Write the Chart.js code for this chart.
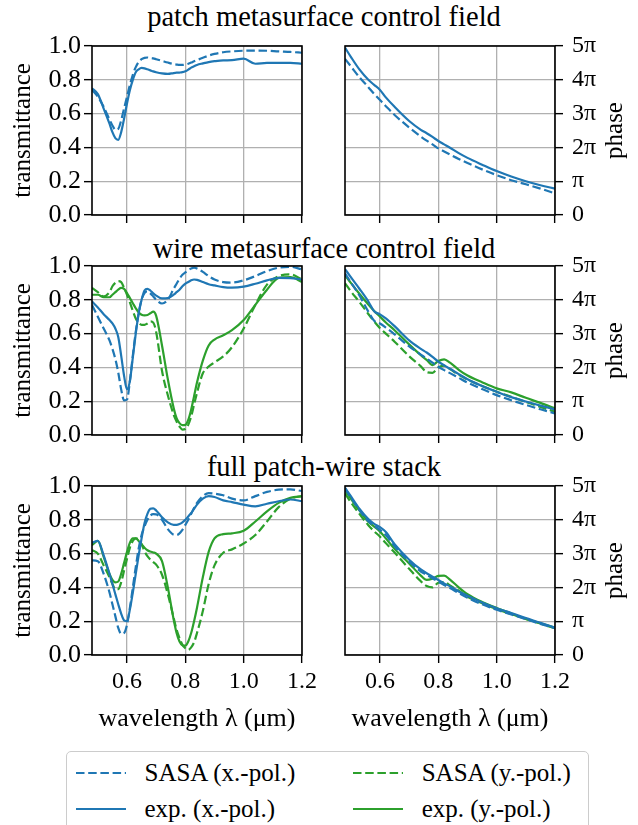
<!DOCTYPE html>
<html>
<head>
<meta charset="utf-8">
<script src="https://cdn.jsdelivr.net/npm/chart.js@4.4.1/dist/chart.umd.min.js"></script>
<style>
  body { margin: 0; width: 638px; height: 825px; position: relative; overflow: hidden; background: #fff; font-family: "Liberation Serif", serif; color: #000; }
  canvas { position: absolute; }
  .row-title { position: absolute; left: 0; width: 648px; text-align: center; font-size: 28.5px; line-height: 34px; white-space: nowrap; }
  #legend { position: absolute; left: 66px; top: 751px; width: 523px; height: 100px; border: 1.5px solid #cccccc; border-radius: 5px; box-sizing: border-box; }
  .item { position: absolute; height: 30px; font-size: 25px; line-height: 30px; display: flex; align-items: center; white-space: nowrap; }
  .item svg { margin-right: 19px; }
</style>
</head>
<body>
<div id="legend"></div>
<script>
// wavelength grid (um) for the transmittance curves
const wl = [0.48, 0.50, 0.52, 0.54, 0.55, 0.56, 0.57, 0.58, 0.59, 0.60, 0.61, 0.62, 0.63, 0.64, 0.65, 0.66, 0.67, 0.68, 0.69, 0.70,
            0.72, 0.74, 0.76, 0.77, 0.78, 0.79, 0.80, 0.81, 0.82, 0.83, 0.84, 0.86, 0.88, 0.90, 0.93, 0.96, 1.00, 1.04, 1.08, 1.12, 1.16, 1.20];

// transmittance, patch metasurface
const patchSasaX = [.74, .70, .64, .565, .53, .505, .51, .56, .63, .70, .77, .83, .875, .905, .922, .93, .932, .93, .927, .922,
                    .912, .902, .893, .89, .888, .888, .89, .895, .902, .91, .917, .93, .943, .953, .963, .968, .972, .973, .972, .968, .965, .96];
const patchExpX  = [.75, .715, .63, .54, .49, .455, .445, .49, .57, .66, .74, .80, .845, .862, .87, .868, .862, .856, .85, .845,
                    .838, .835, .84, .842, .843, .845, .85, .86, .872, .88, .888, .897, .905, .91, .915, .916, .925, .895, .90, .90, .90, .895];

// transmittance, wire metasurface
const wireSasaX = [.77, .70, .63, .56, .51, .45, .37, .27, .205, .21, .32, .47, .61, .72, .80, .84, .85, .838, .82, .80,
                   .778, .80, .865, .895, .925, .948, .962, .975, .985, .99, .985, .965, .94, .92, .905, .902, .915, .94, .97, .99, .995, .98];
const wireExpX  = [.79, .755, .715, .68, .66, .63, .58, .47, .35, .27, .32, .46, .60, .72, .80, .855, .865, .855, .838, .825,
                   .808, .81, .83, .845, .86, .88, .895, .905, .915, .92, .918, .905, .892, .885, .875, .872, .878, .895, .915, .93, .928, .92];
const wireSasaY = [.87, .845, .82, .845, .88, .90, .91, .905, .87, .83, .785, .735, .69, .665, .652, .652, .66, .672, .665, .61,
                   .38, .235, .12, .08, .05, .032, .035, .06, .11, .18, .25, .365, .405, .43, .465, .52, .63, .77, .89, .94, .95, .92];
const wireExpY  = [.83, .83, .815, .815, .83, .845, .86, .87, .865, .84, .81, .78, .75, .725, .712, .708, .71, .72, .73, .705,
                   .53, .33, .16, .10, .07, .058, .06, .09, .15, .23, .31, .44, .53, .565, .59, .62, .68, .77, .86, .93, .935, .905];

// transmittance, full patch-wire stack
const stackSasaX = [.56, .555, .48, .37, .30, .23, .16, .125, .13, .18, .28, .40, .52, .63, .71, .76, .80, .825, .833, .832,
                    .80, .745, .712, .71, .72, .74, .77, .80, .835, .87, .90, .94, .958, .955, .945, .925, .915, .94, .965, .978, .98, .97];
const stackExpX  = [.665, .675, .59, .48, .42, .36, .30, .245, .205, .20, .27, .37, .48, .59, .69, .78, .835, .865, .868, .855,
                    .815, .785, .77, .77, .775, .785, .80, .82, .84, .865, .89, .925, .94, .935, .915, .905, .89, .88, .895, .91, .92, .91];
const stackSasaY = [.62, .60, .53, .46, .42, .39, .39, .43, .50, .57, .635, .675, .69, .685, .655, .615, .585, .565, .55, .535,
                    .475, .36, .22, .15, .10, .06, .04, .03, .045, .075, .13, .26, .42, .53, .605, .625, .66, .71, .79, .875, .925, .94];
const stackExpY  = [.65, .675, .58, .48, .445, .43, .435, .48, .545, .61, .665, .69, .69, .675, .655, .635, .62, .612, .607, .60,
                    .555, .40, .21, .13, .08, .058, .055, .08, .13, .20, .28, .46, .61, .69, .715, .72, .735, .79, .85, .90, .93, .94];

// wavelength grid (um) for the phase curves, phase in units of pi
const phaseWl = [0.48, 0.50, 0.53, 0.56, 0.58, 0.60, 0.62, 0.65, 0.70, 0.74, 0.76, 0.78, 0.80, 0.82, 0.84, 0.87, 0.90, 0.95, 1.00, 1.05, 1.10, 1.15, 1.20];

const patchPhaseSasaX = [4.62, 4.40, 4.07, 3.78, 3.58, 3.40, 3.22, 2.96, 2.59, 2.32, 2.20, 2.09, 1.97, 1.88, 1.79, 1.66, 1.54, 1.35, 1.18, 1.03, 0.91, 0.78, 0.64];
const patchPhaseExpX  = [4.95, 4.68, 4.30, 4.00, 3.85, 3.70, 3.48, 3.20, 2.78, 2.52, 2.42, 2.31, 2.19, 2.09, 1.99, 1.83, 1.69, 1.49, 1.30, 1.14, 1.00, 0.88, 0.78];

const wirePhaseSasaX = [4.78, 4.52, 4.12, 3.65, 3.38, 3.30, 3.18, 2.98, 2.62, 2.38, 2.26, 2.14, 2.02, 1.92, 1.83, 1.69, 1.55, 1.36, 1.18, 1.03, 0.89, 0.76, 0.64];
const wirePhaseExpX  = [4.91, 4.67, 4.32, 3.95, 3.66, 3.57, 3.45, 3.22, 2.80, 2.55, 2.44, 2.31, 2.17, 2.06, 1.96, 1.80, 1.65, 1.45, 1.28, 1.12, 0.99, 0.87, 0.76];
const wirePhaseSasaY = [4.49, 4.25, 3.93, 3.58, 3.36, 3.16, 3.00, 2.76, 2.33, 2.03, 1.86, 1.84, 2.00, 2.05, 1.95, 1.78, 1.64, 1.45, 1.28, 1.13, 0.98, 0.83, 0.69];
const wirePhaseExpY  = [4.73, 4.50, 4.17, 3.86, 3.67, 3.50, 3.33, 3.10, 2.68, 2.36, 2.22, 2.07, 2.19, 2.24, 2.14, 1.93, 1.76, 1.56, 1.38, 1.26, 1.10, 0.95, 0.79];

const stackPhaseSasaX = [4.93, 4.66, 4.28, 3.96, 3.82, 3.70, 3.55, 3.22, 2.76, 2.47, 2.37, 2.27, 2.17, 2.07, 1.98, 1.83, 1.69, 1.50, 1.34, 1.20, 1.06, 0.92, 0.79];
const stackPhaseExpX  = [4.95, 4.70, 4.32, 4.02, 3.88, 3.78, 3.64, 3.28, 2.82, 2.53, 2.42, 2.32, 2.22, 2.12, 2.03, 1.88, 1.75, 1.55, 1.38, 1.24, 1.09, 0.95, 0.81];
const stackPhaseSasaY = [4.78, 4.52, 4.17, 3.84, 3.66, 3.50, 3.31, 3.03, 2.55, 2.18, 2.04, 2.00, 2.14, 2.16, 2.06, 1.90, 1.72, 1.53, 1.36, 1.21, 1.07, 0.93, 0.79];
const stackPhaseExpY  = [4.88, 4.63, 4.27, 3.94, 3.80, 3.65, 3.45, 3.14, 2.71, 2.35, 2.22, 2.26, 2.34, 2.35, 2.23, 2.00, 1.80, 1.57, 1.39, 1.23, 1.07, 0.94, 0.81];

// ticks and labels
const wlTicks = [0.6, 0.8, 1.0, 1.2];
const transTicks = [0, 0.2, 0.4, 0.6, 0.8, 1.0];
const phaseTicks = [0, 1, 2, 3, 4, 5];
const phaseTickLabels = ["0", "π", "2π", "3π", "4π", "5π"];
const rowTitles = ["patch metasurface control field", "wire metasurface control field", "full patch-wire stack"];
const legendLabels = ["SASA (x.-pol.)", "exp. (x.-pol.)", "SASA (y.-pol.)", "exp. (y.-pol.)"];

// series per row, in order: SASA x, exp x, SASA y, exp y
const transRows = [
  [patchSasaX, patchExpX],
  [wireSasaX, wireExpX, wireSasaY, wireExpY],
  [stackSasaX, stackExpX, stackSasaY, stackExpY]
];
const phaseRows = [
  [patchPhaseSasaX, patchPhaseExpX],
  [wirePhaseSasaX, wirePhaseExpX, wirePhaseSasaY, wirePhaseExpY],
  [stackPhaseSasaX, stackPhaseExpX, stackPhaseSasaY, stackPhaseExpY]
];

const BLUE = "#1f77b4";
const GREEN = "#2ca02c";
const DASH = [8.5, 3.7];
const styles = [
  { color: BLUE, dash: DASH },
  { color: BLUE, dash: [] },
  { color: GREEN, dash: DASH },
  { color: GREEN, dash: [] }
];

const FONT = "Liberation Serif";
const rowTops = [46, 266, 486];
const plotH = 169;
const padTop = 30; // room for half a tick label plus its padding above the axes

// box around the axes, drawn over the curves like matplotlib spines
const framePlugin = {
  id: "frame",
  afterDatasetsDraw(chart) {
    const { ctx, chartArea: a } = chart;
    ctx.save();
    ctx.strokeStyle = "#000";
    ctx.lineWidth = 1.6;
    ctx.strokeRect(a.left, a.top, a.right - a.left, a.bottom - a.top);
    ctx.restore();
  }
};

// right hand "phase" label, reading bottom to top
const phaseLabelPlugin = {
  id: "phaseLabel",
  afterDraw(chart) {
    const { ctx, chartArea: a } = chart;
    ctx.save();
    ctx.font = "25px '" + FONT + "'";
    ctx.fillStyle = "#000";
    ctx.textAlign = "center";
    ctx.textBaseline = "middle";
    ctx.translate(280, (a.top + a.bottom) / 2);
    ctx.rotate(-Math.PI / 2);
    ctx.fillText("phase", 0, 0);
    ctx.restore();
  }
};

function points(xs, ys) {
  return xs.map((x, i) => ({ x: x, y: ys[i] }));
}

function makePanel(row, isPhase) {
  const last = row === rowTitles.length - 1;
  const xh = last ? 80 : 10;
  const padBottom = last ? 6 : 22;
  const canvas = document.createElement("canvas");
  canvas.width = isPhase ? 303 : 330;
  canvas.height = padTop + plotH + xh + padBottom;
  canvas.style.left = (isPhase ? 335 : 0) + "px";
  canvas.style.top = (rowTops[row] - padTop) + "px";
  document.body.appendChild(canvas);

  const series = isPhase ? phaseRows[row] : transRows[row];
  const xs = isPhase ? phaseWl : wl;
  const datasets = series.map((ys, i) => ({
    data: points(xs, ys),
    borderColor: styles[i].color,
    borderDash: styles[i].dash,
    borderWidth: 2.2,
    pointRadius: 0,
    fill: false,
    cubicInterpolationMode: "monotone"
  }));

  const grid = {
    color: "#b0b0b0",
    lineWidth: 1.3,
    drawTicks: true,
    tickLength: 8,
    tickColor: "#000",
    tickWidth: 1.4
  };

  new Chart(canvas, {
    type: "line",
    data: { datasets: datasets },
    options: {
      responsive: false,
      animation: false,
      events: [],
      layout: {
        padding: isPhase
          ? { top: padTop, left: 10, right: 0, bottom: padBottom }
          : { top: padTop, left: 0, right: 28, bottom: padBottom }
      },
      plugins: { legend: { display: false }, tooltip: { enabled: false } },
      scales: {
        x: {
          type: "linear",
          min: 0.48,
          max: 1.2,
          border: { display: false },
          grid: grid,
          afterBuildTicks: (s) => { s.ticks = wlTicks.map((v) => ({ value: v })); },
          afterFit: (s) => { s.height = xh; },
          ticks: {
            display: last,
            autoSkip: false,
            padding: 4,
            maxRotation: 0,
            color: "#000",
            font: { family: FONT, size: 24 },
            callback: (v) => v.toFixed(1)
          },
          title: {
            display: last,
            text: "wavelength λ (μm)",
            color: "#000",
            font: { family: FONT, size: 26 },
            padding: { top: 0, bottom: 0 }
          }
        },
        y: {
          type: "linear",
          position: isPhase ? "right" : "left",
          min: 0,
          max: isPhase ? 5 : 1,
          border: { display: false },
          grid: grid,
          afterBuildTicks: (s) => {
            s.ticks = (isPhase ? phaseTicks : transTicks).map((v) => ({ value: v }));
          },
          afterFit: (s) => { s.width = isPhase ? 83 : 92; },
          ticks: {
            autoSkip: false,
            padding: isPhase ? 9 : 3,
            color: "#000",
            font: { family: FONT, size: isPhase ? 24 : 26 },
            callback: (v) => isPhase ? phaseTickLabels[Math.round(v)] : v.toFixed(1)
          },
          title: {
            display: !isPhase,
            text: "transmittance",
            color: "#000",
            font: { family: FONT, size: 25 },
            padding: { top: 8.5, bottom: 0 }
          }
        }
      }
    },
    plugins: isPhase ? [framePlugin, phaseLabelPlugin] : [framePlugin]
  });
}

// row titles, baselines at 26.7 / 258.3 / 476.7
const titleBaselines = [26.7, 258.3, 476.7];
rowTitles.forEach((t, r) => {
  const d = document.createElement("div");
  d.className = "row-title";
  d.textContent = t;
  d.style.top = (titleBaselines[r] - 26.6) + "px";
  document.body.appendChild(d);
});

for (let r = 0; r < rowTitles.length; r++) {
  makePanel(r, false);
  makePanel(r, true);
}

// legend, two columns filled column-wise
const legendCols = [75.5, 352.7];
const legendRows = [772.6, 808.7];
legendLabels.forEach((label, i) => {
  const st = styles[i];
  const item = document.createElement("div");
  item.className = "item";
  item.style.left = legendCols[Math.floor(i / 2)] + "px";
  item.style.top = (legendRows[i % 2] - 15) + "px";
  const dash = st.dash.length ? ' stroke-dasharray="' + st.dash.join(" ") + '"' : "";
  item.innerHTML = '<svg width="50" height="6"><line x1="0" y1="3" x2="50" y2="3" stroke="' + st.color +
    '" stroke-width="2.2"' + dash + '/></svg><span></span>';
  item.querySelector("span").textContent = label;
  document.body.appendChild(item);
});
</script>
</body>
</html>
